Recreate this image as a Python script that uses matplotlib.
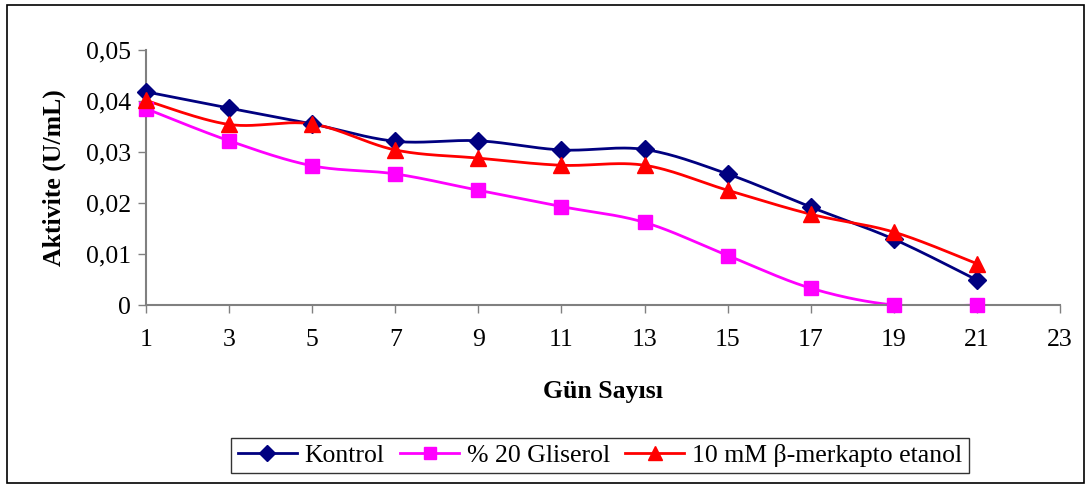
"""
Enzim aktivitesinin gün sayisina göre degisimi (Kontrol, %20 Gliserol, 10 mM b-merkapto etanol)
"""
import numpy as np
import matplotlib
matplotlib.use('Agg')
import matplotlib.pyplot as plt
from matplotlib.ticker import FuncFormatter
from matplotlib.patches import Rectangle

plt.rcParams['font.family'] = ['Liberation Serif', 'DejaVu Serif']

## Data
gun = [1, 3, 5, 7, 9, 11, 13, 15, 17, 19, 21]
kontrol = [0.0418, 0.0386, 0.0355, 0.0321, 0.0322, 0.0304, 0.0305, 0.0257, 0.0192, 0.0129, 0.0049]
gliserol = [0.0385, 0.0322, 0.0273, 0.0257, 0.0225, 0.0193, 0.0162, 0.0097, 0.0033, 0.0, 0.0]
merkapto = [0.0401, 0.0354, 0.0355, 0.0304, 0.0288, 0.0274, 0.0274, 0.0225, 0.0178, 0.0143, 0.0081]
xticks = [1, 3, 5, 7, 9, 11, 13, 15, 17, 19, 21, 23]
yticks = [0, 0.01, 0.02, 0.03, 0.04, 0.05]


### Excel-like smoothed line (cardinal bezier through the points)
def smooth(x, y, n=30):
    x = np.asarray(x, float)
    y = np.asarray(y, float)
    px = np.concatenate([[x[0]], x, [x[-1]]])
    py = np.concatenate([[y[0]], y, [y[-1]]])
    xs, ys = [], []
    for i in range(1, len(px) - 2):
        p0 = np.array([px[i - 1], py[i - 1]])
        p1 = np.array([px[i], py[i]])
        p2 = np.array([px[i + 1], py[i + 1]])
        p3 = np.array([px[i + 2], py[i + 2]])
        c1 = p1 + (p2 - p0) / 6
        c2 = p2 - (p3 - p1) / 6
        t = np.linspace(0, 1, n)[:, None]
        b = ((1 - t) ** 3) * p1 + 3 * ((1 - t) ** 2) * t * c1 + 3 * (1 - t) * t ** 2 * c2 + t ** 3 * p2
        xs.append(b[:, 0])
        ys.append(b[:, 1])
    return np.concatenate(xs), np.concatenate(ys)


fig = plt.figure(figsize=(10.89, 4.87), dpi=100)
ax = fig.add_axes([146 / 1089, 1 - 305 / 487, (1060 - 146) / 1089, (305 - 50) / 487])

series = [
    (kontrol, '#000080', 'D', 9, 'Kontrol'),
    (gliserol, '#FF00FF', 's', 10, '% 20 Gliserol'),
    (merkapto, '#FF0000', '^', 11, '10 mM β-merkapto etanol'),
]
handles = []
for vals, col, mk, ms, lab in series:
    sx, sy = smooth(gun, vals)
    ax.plot(sx, sy, color=col, linewidth=2.0, zorder=2)
    ax.plot(gun, vals, linestyle='none', marker=mk, markersize=ms, color=col, zorder=3, clip_on=False)
    h, = ax.plot([], [], color=col, linewidth=2.0, marker=mk, markersize=ms - 1, label=lab)
    handles.append(h)

ax.set_xlim(1, 23)
ax.set_ylim(0, 0.05)
ax.set_xticks(xticks)
ax.set_yticks(yticks)
ax.yaxis.set_major_formatter(FuncFormatter(lambda v, p: '0' if v == 0 else ('%.2f' % v).replace('.', ',')))

for loc in ['top', 'right']:
    ax.spines[loc].set_visible(False)
for loc in ['left', 'bottom']:
    ax.spines[loc].set_color('#808080')
    ax.spines[loc].set_linewidth(1.5)
ax.tick_params(axis='both', direction='out', length=6, width=1, color='#808080', labelsize=18.5, labelcolor='black')
ax.tick_params(axis='x', pad=11)
ax.tick_params(axis='y', pad=5)

ax.set_xlabel('Gün Sayısı', fontsize=18.5, fontweight='bold', labelpad=21)
ax.set_ylabel('Aktivite (U/mL)', fontsize=18.5, fontweight='bold', labelpad=14)

leg = fig.legend(handles=handles, loc='center', bbox_to_anchor=(600 / 1089, 1 - 455.5 / 487), ncol=3,
                 fontsize=18.5, frameon=True, fancybox=False, edgecolor='black', handlelength=2.3,
                 columnspacing=0.6, handletextpad=0.3, borderpad=0.25, borderaxespad=0)
leg.get_frame().set_linewidth(1.0)

# outer chart border
fig.patches.append(Rectangle((7 / 1089, 1 - 483 / 487), 1077 / 1089, 478 / 487, transform=fig.transFigure,
                             fill=False, edgecolor='black', linewidth=1.2))

fig.savefig('out.png', dpi=100, facecolor='white')
